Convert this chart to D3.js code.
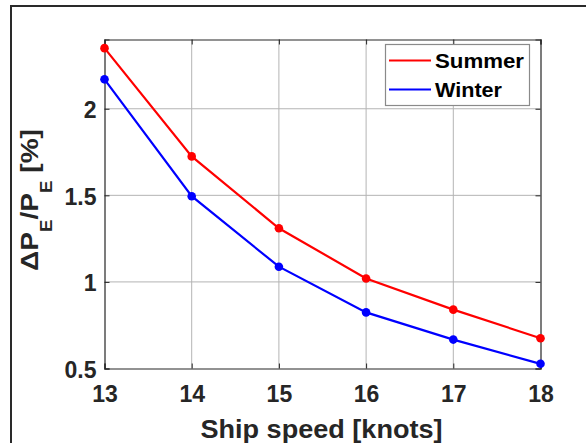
<!DOCTYPE html>
<html>
<head>
<meta charset="utf-8">
<script src="https://cdn.jsdelivr.net/npm/d3@7"></script>
<style>
  html, body { margin: 0; padding: 0; background: #fff; }
  svg { display: block; font-family: "Liberation Sans", Arial, Helvetica, sans-serif; font-weight: bold; }
</style>
</head>
<body>
<svg id="chart" width="586" height="443"></svg>
<script>
// Ship speed (knots) and relative effective power increase (%)
const speeds = [13, 14, 15, 16, 17, 18];
const summer = [2.35, 1.725, 1.31, 1.02, 0.84, 0.675];
const winter = [2.17, 1.495, 1.088, 0.824, 0.667, 0.527];
const xTicks = [13, 14, 15, 16, 17, 18];
const yTicks = [0.5, 1, 1.5, 2];
const seriesNames = ["Summer", "Winter"];
const seriesColors = ["#ff0000", "#0000ff"];

const svg = d3.select("#chart");
const m = { left: 104.5, right: 540.5, top: 39.5, bottom: 368.5 };

const x = d3.scaleLinear().domain([13, 18]).range([m.left, m.right]);
const y = d3.scaleLinear().domain([0.5, 2.4]).range([m.bottom, m.top]);

// outer figure frame (top and left edges)
svg.append("path")
  .attr("d", "M11,443 L11,6 L586,6")
  .attr("fill", "none")
  .attr("stroke", "#2a2a2a")
  .attr("stroke-width", 2);

// grid
const grid = svg.append("g");
grid.selectAll("line.gx").data(xTicks.slice(1, -1)).join("line")
  .attr("x1", d => x(d)).attr("x2", d => x(d))
  .attr("y1", m.top).attr("y2", m.bottom)
  .attr("stroke", "#b4b4b4").attr("stroke-width", 1);
grid.selectAll("line.gy").data(yTicks.slice(1)).join("line")
  .attr("y1", d => y(d)).attr("y2", d => y(d))
  .attr("x1", m.left).attr("x2", m.right)
  .attr("stroke", "#b4b4b4").attr("stroke-width", 1);

// axes with inward ticks
const tickLen = 5;
const xAxisB = d3.axisBottom(x).tickValues(xTicks).tickSize(-tickLen).tickFormat(d3.format("d"));
const xAxisT = d3.axisTop(x).tickValues(xTicks).tickSize(-tickLen).tickFormat("");
const yAxisL = d3.axisLeft(y).tickValues(yTicks).tickSize(-tickLen).tickPadding(8).tickFormat(d => d3.format("")(d));
const yAxisR = d3.axisRight(y).tickValues(yTicks).tickSize(-tickLen).tickFormat("");

function style(g) {
  g.select(".domain").attr("stroke", "#262626").attr("stroke-width", 1.2);
  g.selectAll(".tick line").attr("stroke", "#262626");
  g.selectAll(".tick text").attr("fill", "#262626").attr("font-size", 23)
    .attr("font-family", "Liberation Sans, Arial, sans-serif").attr("font-weight", "bold");
}
svg.append("g").attr("transform", `translate(0,${m.bottom})`).call(xAxisB).call(style)
  .selectAll(".tick text").attr("y", 33.5).attr("dy", 0);
svg.append("g").attr("transform", `translate(0,${m.top})`).call(xAxisT).call(style);
svg.append("g").attr("transform", `translate(${m.left},0)`).call(yAxisL).call(style)
  .selectAll(".tick text").attr("dy", "0.38em");
svg.append("g").attr("transform", `translate(${m.right},0)`).call(yAxisR).call(style);

// series lines and markers
const line = d3.line().x((d, i) => x(speeds[i])).y(d => y(d));
[summer, winter].forEach((vals, k) => {
  svg.append("path").datum(vals)
    .attr("d", line)
    .attr("fill", "none")
    .attr("stroke", seriesColors[k])
    .attr("stroke-width", 2.2);
  svg.append("g").selectAll("circle").data(vals).join("circle")
    .attr("cx", (d, i) => x(speeds[i]))
    .attr("cy", d => y(d))
    .attr("r", 4.3)
    .attr("fill", seriesColors[k]);
});

// x label
svg.append("text")
  .attr("x", (m.left + m.right) / 2 - 1).attr("y", 437.5)
  .attr("text-anchor", "middle")
  .attr("font-size", 25)
  .attr("fill", "#262626")
  .attr("textLength", 242).attr("lengthAdjust", "spacingAndGlyphs")
  .text("Ship speed [knots]");

// y label with subscripts, stretched along the reading direction
const yl = svg.append("text")
  .attr("transform", "translate(37.5,200) rotate(-90) scale(1.17,1)")
  .attr("text-anchor", "middle")
  .attr("font-size", 24)
  .attr("fill", "#262626");
yl.append("tspan").text("ΔP");
yl.append("tspan").attr("font-size", 16).attr("dy", 14).text("E");
yl.append("tspan").attr("dy", -14).text("/P");
yl.append("tspan").attr("font-size", 16).attr("dy", 14).text("E");
yl.append("tspan").attr("dy", -14).text(" [%]");

// legend
const lg = svg.append("g");
lg.append("rect")
  .attr("x", 385.5).attr("y", 44.5).attr("width", 144).attr("height", 61)
  .attr("fill", "#fff").attr("stroke", "#8a8a8a").attr("stroke-width", 1.2);
seriesNames.forEach((name, k) => {
  const ly = 60.5 + k * 29;
  lg.append("line")
    .attr("x1", 389).attr("x2", 431).attr("y1", ly).attr("y2", ly)
    .attr("stroke", seriesColors[k]).attr("stroke-width", 2.2);
  lg.append("text")
    .attr("x", 435).attr("y", ly + 7.5)
    .attr("font-size", 20)
    .attr("fill", "#000")
    .attr("textLength", k === 0 ? 89 : 67).attr("lengthAdjust", "spacingAndGlyphs")
    .text(name);
});
</script>
</body>
</html>
